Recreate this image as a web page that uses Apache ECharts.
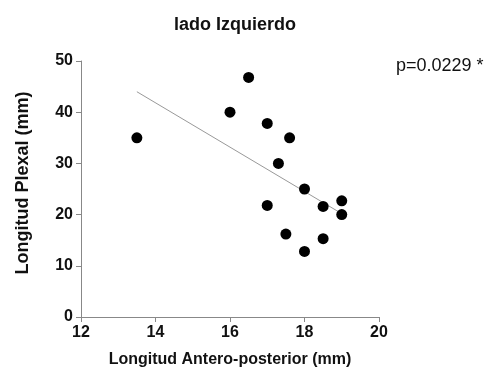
<!DOCTYPE html>
<html>
<head>
<meta charset="utf-8">
<script src="https://cdn.jsdelivr.net/npm/echarts@6/dist/echarts.min.js"></script>
<style>
  html, body { margin: 0; padding: 0; background: #fff; }
  #chart { width: 495px; height: 378px; }
</style>
</head>
<body>
<div id="chart"></div>
<script>
// Longitud Antero-posterior (mm) vs Longitud Plexal (mm)
const antero = [13.5, 16, 16.5, 17, 17.6, 17.3, 18, 17, 18.5, 19, 19, 17.5, 18.5, 18];
const plexal = [35, 40, 46.8, 37.8, 35, 30, 25, 21.8, 21.6, 22.7, 20, 16.2, 15.3, 12.8];
// trend line endpoints
const lineX = [13.5, 18.95];
const lineY = [44, 20.4];
const xTicks = [12, 14, 16, 18, 20];

const font = '"Liberation Sans", Arial, sans-serif';
const chart = echarts.init(document.getElementById("chart"));

chart.setOption({
  backgroundColor: "#fff",
  animation: false,
  title: {
    text: "lado Izquierdo",
    left: 230,
    textAlign: "center",
    top: 11,
    textStyle: { fontFamily: font, fontSize: 18, fontWeight: "bold", color: "#111" },
  },
  graphic: [
    {
      type: "text",
      left: 396,
      top: 57,
      style: { text: "p=0.0229 *", font: '18px ' + font, fill: "#111" },
    },
  ],
  grid: { left: 81, right: 116, top: 61, bottom: 61 },
  xAxis: {
    type: "value",
    min: 12,
    max: 20,
    interval: 2,
    name: "Longitud Antero-posterior (mm)",
    nameLocation: "middle",
    nameGap: 35,
    nameTextStyle: { fontFamily: font, fontSize: 16, fontWeight: "bold", color: "#111" },
    axisLine: { lineStyle: { color: "#888", width: 1 } },
    axisTick: { show: true, length: 5, lineStyle: { color: "#888" } },
    axisLabel: {
      fontFamily: font, fontSize: 16, fontWeight: "bold", color: "#111", margin: 8,
      formatter: (v) => (xTicks.includes(v) ? String(v) : ""),
    },
    splitLine: { show: false },
  },
  yAxis: {
    type: "value",
    min: 0,
    max: 50,
    interval: 10,
    name: "Longitud Plexal (mm)",
    nameLocation: "middle",
    nameGap: 49,
    nameTextStyle: { fontFamily: font, fontSize: 18, fontWeight: "bold", color: "#111", padding: [0, 0, 0, 12] },
    axisLine: { show: true, lineStyle: { color: "#888", width: 1 } },
    axisTick: { show: true, length: 5, lineStyle: { color: "#888" } },
    axisLabel: { fontFamily: font, fontSize: 16, fontWeight: "bold", color: "#111", margin: 8 },
    splitLine: { show: false },
  },
  series: [
    {
      type: "line",
      data: lineX.map((x, i) => [x, lineY[i]]),
      showSymbol: false,
      lineStyle: { color: "#999", width: 1 },
      z: 1,
    },
    {
      type: "scatter",
      data: antero.map((x, i) => [x, plexal[i]]),
      symbolSize: 11,
      itemStyle: { color: "#000", opacity: 1 },
      z: 2,
    },
  ],
});
</script>
</body>
</html>
